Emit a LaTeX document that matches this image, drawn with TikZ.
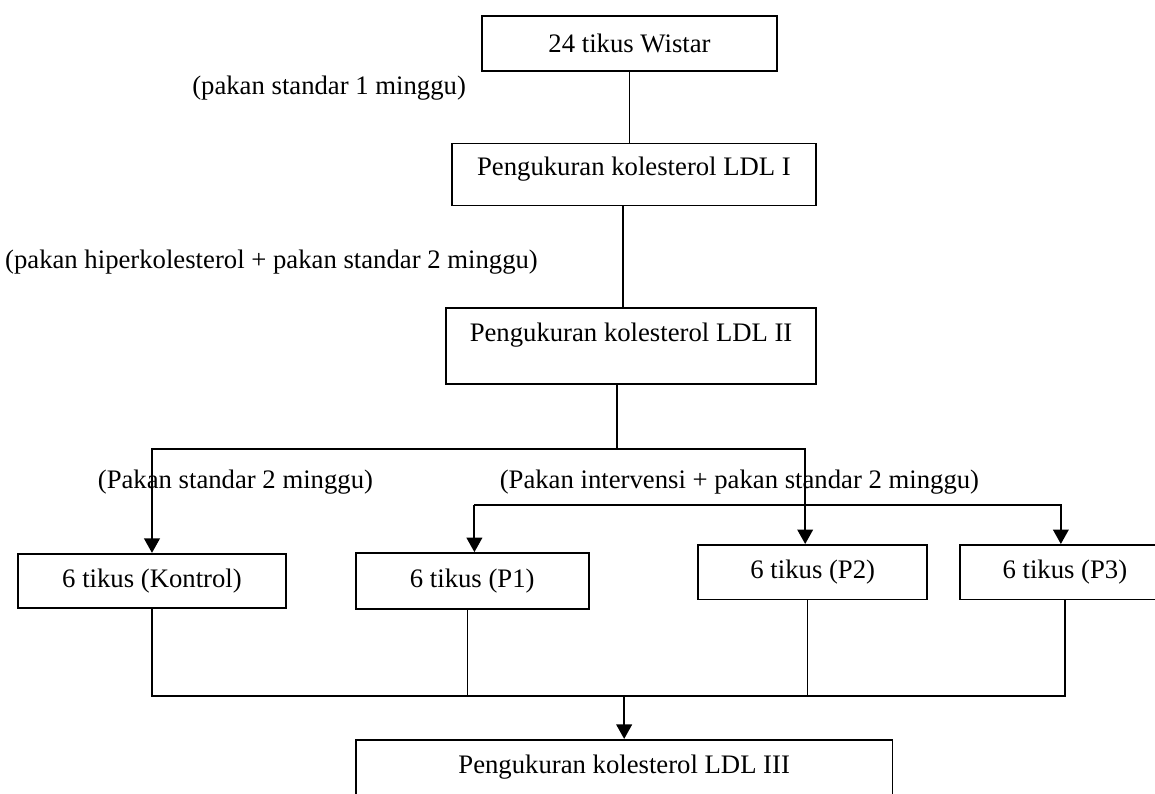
\documentclass[tikz,border=0pt]{standalone}
\usepackage{fontspec}
\setmainfont{Liberation Serif}
\usepackage{tikz}
\usetikzlibrary{arrows.meta, positioning}

\begin{document}
\begin{tikzpicture}[
    box/.style={rectangle, draw, line width=0.75pt, minimum height=24.5pt, font=\fontsize{12pt}{14pt}\selectfont},
    tallbox/.style={box, text depth=12.5pt, minimum height=34.2pt},
    note/.style={font=\fontsize{12pt}{14pt}\selectfont},
    line/.style={line width=0.6pt},
    arrow/.style={-{Triangle[width=7pt,length=6.5pt]}, line width=0.9pt}
]
\useasboundingbox (0,0) rectangle (519.06pt,-356.82pt);

\node[box, minimum width=132.6pt] (wistar) at (282.9pt,-19.55pt) {24 tikus Wistar};
\node[box, minimum width=163.6pt, minimum height=27.9pt, text depth=7pt, below=31.9pt of wistar, xshift=2pt] (ldl1) {Pengukuran kolesterol LDL I};
\node[tallbox, minimum width=166.3pt, below=45.4pt of ldl1, xshift=-1.3pt] (ldl2) {Pengukuran kolesterol LDL II};

\node[box, minimum width=120.4pt] (kontrol) at (68.3pt,-261.1pt) {6 tikus (Kontrol)};
\node[box, minimum width=104.7pt, minimum height=25.2pt, right=30.6pt of kontrol] (p1) {6 tikus (P1)};
\node[box, minimum width=102.9pt, right=48.5pt of p1, yshift=4pt] (p2) {6 tikus (P2)};
\node[box, minimum width=94.4pt, right=13.9pt of p2] (p3) {6 tikus (P3)};
\node[tallbox, minimum width=241.3pt, below=58pt of p1.south west, anchor=north west] (ldl3) {Pengukuran kolesterol LDL III};

\node[note] (week1) at (147.9pt,-39.5pt) {(pakan standar 1 minggu)};
\node[note] (hiper) at (122.0pt,-117.7pt) {(pakan hiperkolesterol + pakan standar 2 minggu)};
\node[note] (std) at (105.8pt,-216.6pt) {(Pakan standar 2 minggu)};
\node[note] (interv) at (332.3pt,-216.6pt) {(Pakan intervensi + pakan standar 2 minggu)};

\coordinate (fork) at ([xshift=-6.3pt,yshift=-28.8pt]ldl2.south);
\coordinate (fork2) at ([xshift=1pt,yshift=21.1pt]p1.north);
\coordinate (join) at ([yshift=-39.1pt]kontrol.south);

\draw[line] (wistar.south) -- (wistar.south |- ldl1.north);
\draw[line] ([xshift=-5pt]ldl1.south) -- ([xshift=-5pt]ldl1.south |- ldl2.north);
\draw[line] (ldl2.south -| fork) -- (fork);
\draw[arrow] (fork) -| (kontrol.north);
\draw[arrow] (fork) -| ([xshift=-3.4pt]p2.north);
\draw[arrow] (fork2) -- (fork2 |- p1.north);
\draw[arrow] (fork2) -| ([xshift=-1.8pt]p3.north);

\draw[line] (kontrol.south) -- (join) -- (join -| p3.south) -- (p3.south);
\draw[line] ([xshift=-2pt]p1.south) -- ([xshift=-2pt]p1.south |- join);
\draw[line] ([xshift=-2.5pt]p2.south) -- ([xshift=-2.5pt]p2.south |- join);
\draw[arrow] (ldl3.north |- join) -- (ldl3.north);

\end{tikzpicture}
\end{document}
